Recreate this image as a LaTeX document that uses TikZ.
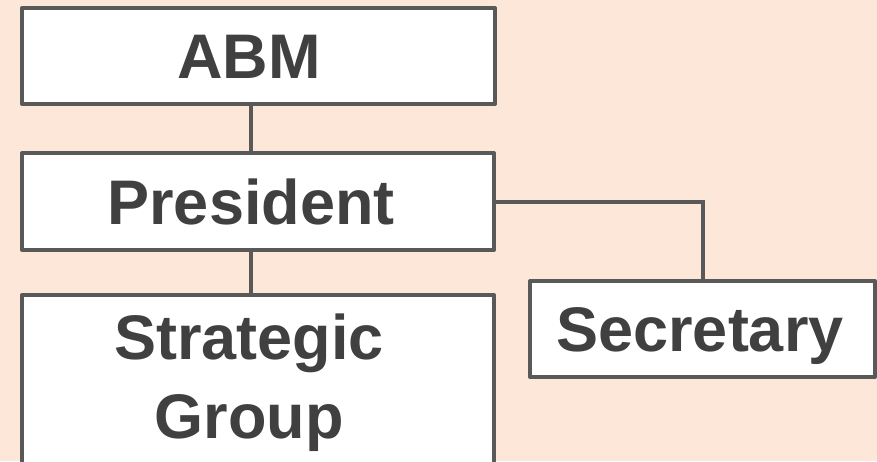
\documentclass[tikz,border=0pt]{standalone}
\usepackage{fontspec}
\setmainfont{Liberation Sans}
\definecolor{peach}{RGB}{252,231,217}
\definecolor{boxline}{RGB}{89,89,89}
\definecolor{boxtext}{RGB}{64,64,64}
\tikzset{
  orgbox/.style={draw=boxline, line width=4pt, fill=white, line join=round,
    minimum width=472pt, minimum height=97pt, inner sep=0pt},
  orgtext/.style={text=boxtext, font=\fontsize{63}{79}\selectfont\bfseries, align=center},
  capcentre/.style={text height=45pt, text depth=0pt},
  link/.style={draw=boxline, line width=4pt}
}
\begin{document}
\begin{tikzpicture}[x=1pt, y=-1pt]
  % --- page frame and background ---
  \useasboundingbox (0,0) rectangle (877,461);
  \clip (0,0) rectangle (877,461);
  \fill[peach] (0,0) rectangle (877,461);
  % x of the vertical trunk line (text of the left boxes sits on it too)
  \coordinate (trunk) at (251,0);
  % boxes
  \node[orgbox, minimum width=473pt, minimum height=96pt] (abm) at (258.5,56) {};
  \node[orgbox] (pres) at (258,201.5) {};
  \node[orgbox, minimum height=205pt] (strat) at (258,397.5) {};
  \node[orgbox, minimum width=345pt, minimum height=96pt] (sec) at (702.5,329) {};
  % box texts
  \node[orgtext, capcentre] (abmlabel) at (249,56) {ABM};
  \node[orgtext, capcentre] (preslabel) at (251,201.5) {President};
  \node[orgtext] (stratlabel) at (249,383) {Strategic\\Group};
  \node[orgtext, capcentre] (seclabel) at (700,329) {Secretary};
  % lines between the boxes
  \draw[link] (abm.south -| trunk) -- (pres.north -| trunk);
  \draw[link] (pres.south -| trunk) -- (strat.north -| trunk);
  \draw[link] (pres.east) -| (sec.north);
\end{tikzpicture}
\end{document}
